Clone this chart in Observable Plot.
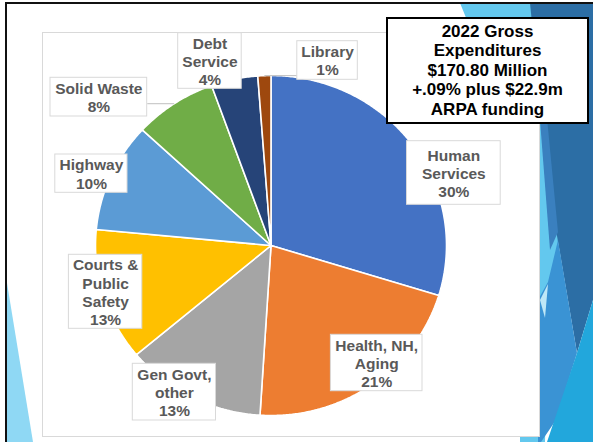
<!DOCTYPE html>
<html><head><meta charset="utf-8">
<script src="https://cdn.jsdelivr.net/npm/d3@7"></script>
<script src="https://cdn.jsdelivr.net/npm/@observablehq/plot@0.6"></script>
<style>
html,body{margin:0;padding:0;background:#fff;}
#stage{position:relative;width:593px;height:442px;overflow:hidden;background:#fff;}
#decor{position:absolute;left:0;top:0;}
#border{position:absolute;left:5px;top:2px;width:640px;height:480px;border-left:2.5px solid #111;border-top:2.5px solid #111;}
#area{position:absolute;left:42px;top:32px;width:496px;height:403px;border:1px solid #d9d9d9;background:#fff;}
#chart{position:absolute;left:0;top:0;}
#title{position:absolute;left:386px;top:17px;width:199px;height:103px;border:2px solid #000;background:#fff;
  font:bold 17px "Liberation Sans",Arial,sans-serif;line-height:19.6px;text-align:center;color:#000;
  display:flex;flex-direction:column;justify-content:center;}
</style></head>
<body>
<div id="stage">
  <svg id="decor" width="593" height="442">
    <polygon points="460,3 535,3 560,230 548,320 545,442 520,442 520,150" fill="#63c8ee"/>
    <polygon points="530,3 593,3 593,300 577,353 556,230 543,133" fill="#2c6ea5"/>
    <polygon points="540,120 547,118 558,232 550,250" fill="#3a80bf"/>
    <polygon points="548,282 558,240 577,353 556,420 541,442 538,442 538,300" fill="#3a93d4"/>
    <polygon points="577,353 593,300 593,442 547,442" fill="#22a7dc"/>
    <polygon points="540,300 548,284 545,318" fill="#bfe8f7"/>
    <polygon points="7,283 33,442 7,442" fill="#8fd8f4"/>
  </svg>
  <div id="border"></div>
  <div id="area"></div>
  <div id="chart"></div>
  <div id="title"><div>2022 Gross</div><div>Expenditures</div><div>$170.80 Million</div><div>+.09% plus $22.9m</div><div>ARPA funding</div></div>
</div>
<script>
// ---- data ----
const categories = ["Human Services", "Health, NH, Aging", "Gen Govt, other", "Courts & Public Safety", "Highway", "Solid Waste", "Debt Service", "Library"];
const shares = [29.75, 21.25, 12.9, 12.6, 10.4, 7.6, 4.3, 1.2];
const pctLabels = ["30%", "21%", "13%", "13%", "10%", "8%", "4%", "1%"];
const labelLines = [["Human", "Services"], ["Health, NH,", "Aging"], ["Gen Govt,", "other"], ["Courts &", "Public", "Safety"], ["Highway"], ["Solid Waste"], ["Debt", "Service"], ["Library"]];

// ---- styles / layout ----
const colors = ["#4472C4", "#ED7D31", "#A5A5A5", "#FFC000", "#5B9BD5", "#70AD47", "#264478", "#9E480E"];
const cx = 270.5, cy = 245, rx = 175.5, ry = 170;
const labelBox = [
  [406.5, 140.7, 500.2, 204.3],
  [330.4, 334.3, 422.0, 390.7],
  [132.3, 363.3, 215.5, 420.0],
  [68.4, 254.3, 141.8, 328.3],
  [54.8, 154.0, 127.0, 192.3],
  [50.0, 77.3, 146.7, 116.0],
  [177.7, 32.7, 241.2, 88.3],
  [296.8, 40.7, 357.3, 79.3]
];

const arcs = d3.pie().sort(null).value(d => d)(shares);
const px = a => cx + rx * Math.sin(a);
const py = a => cy - ry * Math.cos(a);

const slicePts = arcs.map((a, i) => {
  const pts = [{x: cx, y: cy}];
  const n = Math.max(2, Math.ceil((a.endAngle - a.startAngle) / (Math.PI / 360)));
  for (let k = 0; k <= n; k++) {
    const t = a.startAngle + (a.endAngle - a.startAngle) * k / n;
    pts.push({x: px(t), y: py(t)});
  }
  pts.push({x: cx, y: cy});
  return pts;
});

const labels = categories.map((c, i) => {
  const [x1, y1, x2, y2] = labelBox[i];
  return {cat: c, x1, y1, x2, y2, xc: (x1 + x2) / 2, yc: (y1 + y2) / 2,
          text: labelLines[i].join("\n") + "\n" + pctLabels[i]};
});

const leaders = [];
arcs.forEach((a, i) => {
  const m = (a.startAngle + a.endAngle) / 2;
  const ax = px(m), ay = py(m);
  const b = labels[i];
  const bx = Math.max(b.x1, Math.min(b.x2, ax));
  const by = Math.max(b.y1, Math.min(b.y2, ay));
  if (Math.hypot(ax - bx, ay - by) > 6) leaders.push({x1: ax, y1: ay, x2: bx, y2: by});
});

const font = "Liberation Sans, Arial, sans-serif";
const chart = Plot.plot({
  width: 593, height: 442, margin: 0,
  style: {background: "transparent", overflow: "visible"},
  x: {domain: [0, 593], range: [0, 593], axis: null},
  y: {domain: [0, 442], range: [0, 442], axis: null},
  marks: [
    ...categories.map((c, i) => Plot.line(slicePts[i], {x: "x", y: "y", fill: colors[i], stroke: "#fff", strokeWidth: 1.6, strokeLinejoin: "miter"})),
    Plot.link(leaders, {x1: "x1", y1: "y1", x2: "x2", y2: "y2", stroke: "#bfbfbf", strokeWidth: 1}),
    Plot.rect(labels, {x1: "x1", y1: "y1", x2: "x2", y2: "y2", fill: "#fff", stroke: "#d9d9d9", strokeWidth: 1}),
    Plot.text(labels, {x: "xc", y: "yc", text: "text", lineHeight: 1.18, fontSize: 15.5, fontWeight: "bold", fill: "#595959", fontFamily: font})
  ]
});
document.getElementById("chart").appendChild(chart);
</script>
</body></html>
